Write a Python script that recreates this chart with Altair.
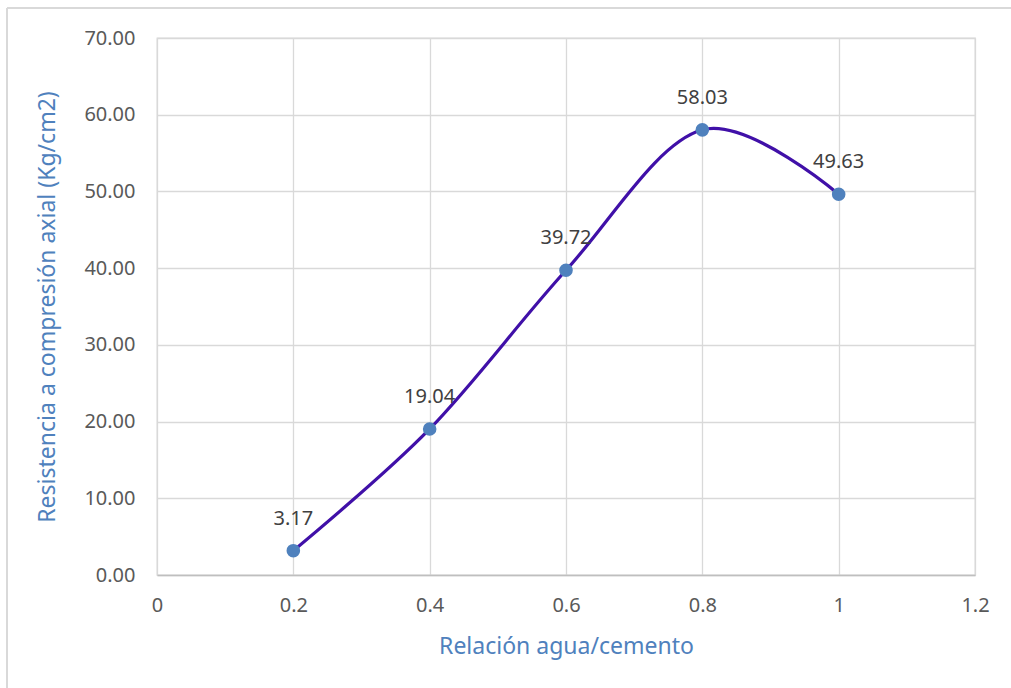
import altair as alt
import pandas as pd

# water/cement ratio and axial compressive strength
ratio = [0.2, 0.4, 0.6, 0.8, 1.0]
strength = [3.17, 19.04, 39.72, 58.03, 49.63]
x_ticks = [0, 0.2, 0.4, 0.6, 0.8, 1.0, 1.2]
y_ticks = [0, 10, 20, 30, 40, 50, 60, 70]

df = pd.DataFrame({"ratio": ratio, "strength": strength})
df["label"] = [f"{v:.2f}" for v in strength]

FONT = "Noto Sans"
BLUE = "#4f81bd"
LINE = "#4010a8"
GRID = "#d9d9d9"

x = alt.X(
    "ratio:Q",
    scale=alt.Scale(domain=[0, 1.2], nice=False, zero=True),
    axis=alt.Axis(
        values=x_ticks,
        labelExpr="datum.value == 0 ? '0' : format(datum.value, '.1~f')",
        labelFlush=False,
        title="Relación agua/cemento",
        titleColor=BLUE,
        titleFont=FONT,
        titleFontSize=23,
        titleFontWeight="normal",
        titlePadding=20,
        labelFont=FONT,
        labelFontSize=20,
        labelColor="#595959",
        labelPadding=20,
        ticks=False,
        domainColor="#bfbfbf",
        domainWidth=1.5,
        grid=True,
        gridColor=GRID,
        gridWidth=1.3,
    ),
)
y = alt.Y(
    "strength:Q",
    scale=alt.Scale(domain=[0, 70], nice=False),
    axis=alt.Axis(
        values=y_ticks,
        format=".2f",
        labelFlush=False,
        title="Resistencia a compresión axial (Kg/cm2)",
        titleColor=BLUE,
        titleFont=FONT,
        titleFontSize=23,
        titleFontWeight="normal",
        titlePadding=24,
        labelFont=FONT,
        labelFontSize=20,
        labelColor="#595959",
        labelPadding=22,
        ticks=False,
        domain=False,
        grid=True,
        gridColor=GRID,
        gridWidth=1.3,
    ),
)

base = alt.Chart(df)

curve = base.mark_line(
    interpolate="cardinal", color=LINE, strokeWidth=3.2
).encode(x=x, y=y)

points = base.mark_circle(size=185, color=BLUE, opacity=1).encode(
    x="ratio:Q", y="strength:Q"
)

labels = base.mark_text(
    dy=-32, font=FONT, fontSize=20, color="#404040"
).encode(x="ratio:Q", y="strength:Q", text="label:N")

# light outer frame of the chart area (left and top edges)
frame_left = base.mark_rule(color=GRID, strokeWidth=1.5).encode(
    x=alt.value(-150), y=alt.value(-30), y2=alt.value(660)
)
frame_top = base.mark_rule(color=GRID, strokeWidth=1.5).encode(
    x=alt.value(-150), x2=alt.value(860), y=alt.value(-30)
)

chart = (
    alt.layer(frame_left, frame_top, curve, points, labels)
    .properties(
        width=818,
        height=537,
        autosize=alt.AutoSizeParams(type="none"),
        padding={"left": 157, "top": 38, "right": 36, "bottom": 113},
        background="white",
    )
    .configure_view(stroke=GRID, strokeWidth=1.3)
)

chart.save("out.html", embed_options={"renderer": "svg", "actions": False})
